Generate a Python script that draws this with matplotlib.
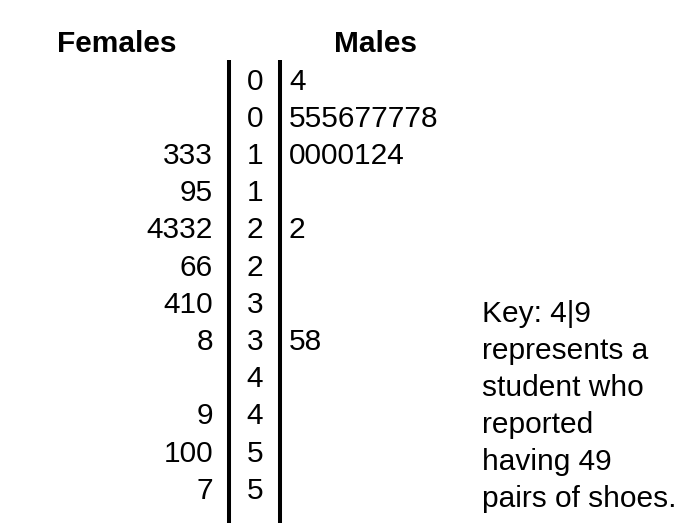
import matplotlib
matplotlib.use("Agg")
import matplotlib.pyplot as plt

plt.rcParams['font.family'] = ['Liberation Sans', 'DejaVu Sans']

stems = ["0", "0", "1", "1", "2", "2", "3", "3", "4", "4", "5", "5"]
female_leaves = ["", "", "333", "95", "4332", "66", "410", "8", "", "9", "100", "7"]
male_leaves = ["4", "555677778", "0000124", "", "2", "", "", "58", "", "", "", ""]
key_lines = ["Key: 4|9", "represents a", "student who", "reported", "having 49", "pairs of shoes."]

W, H = 695, 530
fig = plt.figure(figsize=(W / 100, H / 100), dpi=100)
ax = fig.add_axes([0, 0, 1, 1])
ax.set_xlim(0, W)
ax.set_ylim(H, 0)
ax.axis('off')

fs = 21.5
base0 = 89.5
step = 37.2
stem_x = 255
left_line_x = 229
right_line_x = 280
fem_x = 213
male_x = 289

for i, (s, f, m) in enumerate(zip(stems, female_leaves, male_leaves)):
    y = base0 + i * step
    ax.text(stem_x, y, s, ha='center', va='baseline', fontsize=fs)
    ax.text(fem_x, y, f, ha='right', va='baseline', fontsize=fs)
    ax.text(male_x, y, m, ha='left', va='baseline', fontsize=fs)

ax.plot([left_line_x, left_line_x], [60, 523], color='black', lw=2.9, solid_capstyle='butt')
ax.plot([right_line_x, right_line_x], [60, 523], color='black', lw=2.9, solid_capstyle='butt')

ax.text(117, 52, "Females", ha='center', va='baseline', fontsize=fs, fontweight='bold')
ax.text(376, 52, "Males", ha='center', va='baseline', fontsize=fs, fontweight='bold')

for j, line in enumerate(key_lines):
    ax.text(482, 322 + j * 37, line, ha='left', va='baseline', fontsize=fs)

fig.savefig("out.png", dpi=100)
